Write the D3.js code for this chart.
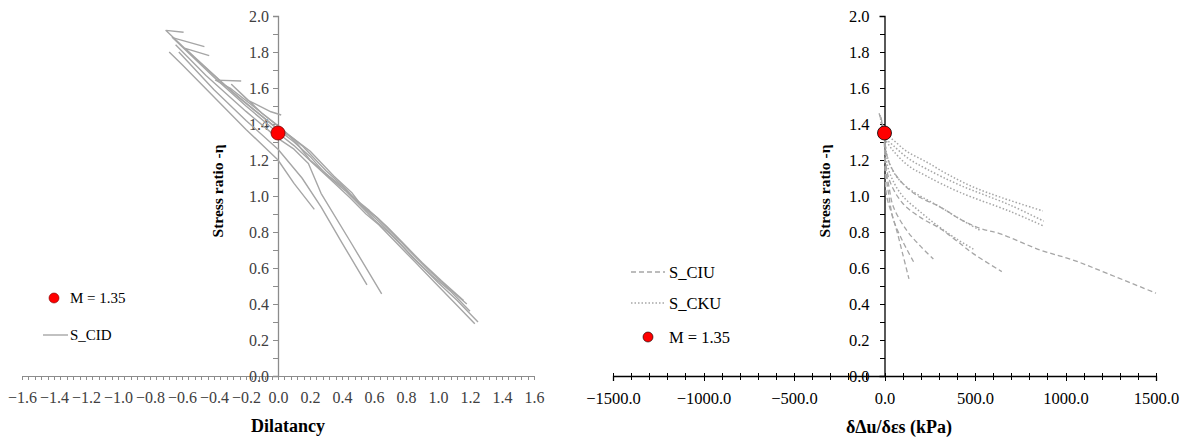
<!DOCTYPE html>
<html>
<head>
<meta charset="utf-8">
<script src="https://cdn.jsdelivr.net/npm/d3@7"></script>
<style>
    body { margin: 0; background: #fff; }
    .tick line { shape-rendering: crispEdges; }
</style>
</head>
<body>
<svg id="chart" width="1187" height="437" font-family="'Liberation Serif', 'Times New Roman', serif"></svg>
<script>

// Tick labels
const dilatancyTicks = [-1.6, -1.4, -1.2, -1.0, -0.8, -0.6, -0.4, -0.2, 0.0, 0.2, 0.4, 0.6, 0.8, 1.0, 1.2, 1.4, 1.6];
const etaTicks = [0.0, 0.2, 0.4, 0.6, 0.8, 1.0, 1.2, 1.4, 1.6, 1.8, 2.0];
const pressureTicks = [-1500, -1000, -500, 0, 500, 1000, 1500];

// Critical state stress ratio
const M = 1.35;

// S_CID drained tests: [dilatancy, eta]
const cid1 = [[1.25, 0.30], [1.12, 0.42], [1.0, 0.52], [0.9, 0.61], [0.8, 0.70], [0.7, 0.79], [0.6, 0.87], [0.5, 0.96], [0.42, 1.03], [0.3, 1.12], [0.2, 1.22], [0.1, 1.30], [0.0, 1.37], [-0.15, 1.48], [-0.3, 1.59], [-0.5, 1.75], [-0.7, 1.92], [-0.59, 1.91]];
const cid2 = [[1.23, 0.29], [1.1, 0.41], [0.98, 0.52], [0.86, 0.63], [0.75, 0.73], [0.63, 0.84], [0.55, 0.90], [0.45, 0.99], [0.33, 1.09], [0.22, 1.18], [0.1, 1.28], [0.0, 1.35], [-0.2, 1.50], [-0.4, 1.66], [-0.66, 1.88], [-0.46, 1.83]];
const cid3 = [[1.18, 0.40], [1.05, 0.50], [0.95, 0.58], [0.85, 0.67], [0.72, 0.79], [0.62, 0.88], [0.52, 0.95], [0.46, 1.02], [0.35, 1.11], [0.2, 1.25], [0.08, 1.33], [0.0, 1.37], [-0.25, 1.55], [-0.58, 1.82], [-0.43, 1.78]];
const cid4 = [[1.16, 0.42], [1.02, 0.53], [0.9, 0.63], [0.78, 0.74], [0.68, 0.83], [0.57, 0.92], [0.46, 1.00], [0.4, 1.06], [0.3, 1.14], [0.15, 1.28], [0.04, 1.36], [-0.1, 1.46], [-0.3, 1.60], [-0.39, 1.644], [-0.23, 1.639]];
const cid5 = [[1.2, 0.36], [1.08, 0.47], [0.96, 0.56], [0.84, 0.66], [0.74, 0.76], [0.64, 0.85], [0.53, 0.94], [0.42, 1.04], [0.32, 1.11], [0.2, 1.20], [0.12, 1.29], [0.03, 1.37], [-0.1, 1.46], [-0.29, 1.62], [-0.19, 1.533], [-0.044, 1.468], [0.02, 1.45]];
const cid6 = [[0.227, 0.926], [0.1, 1.07], [0.0, 1.20], [-0.2, 1.37], [-0.4, 1.55], [-0.6, 1.73], [-0.68, 1.80]];
const cid7 = [[0.556, 0.506], [0.4, 0.74], [0.269, 0.94], [0.15, 1.10], [0.0, 1.26], [-0.2, 1.42], [-0.4, 1.59], [-0.62, 1.80]];
const cid8 = [[0.648, 0.456], [0.45, 0.75], [0.269, 1.015], [0.19, 1.18], [0.1, 1.26], [0.0, 1.32], [-0.2, 1.47], [-0.45, 1.67], [-0.64, 1.84]];

// S_CIU undrained isotropic tests: [dDu/des (kPa), eta]
const ciu1 = [[-30, 1.46], [0, 1.35], [5, 1.28], [20, 1.20], [60, 1.12], [120, 1.05], [200, 0.99], [306, 0.94], [420, 0.87], [530, 0.82], [640, 0.79], [860, 0.70], [1040, 0.645], [1230, 0.57], [1500, 0.46]];
const ciu2 = [[-20, 1.44], [0, 1.33], [5, 1.20], [30, 1.08], [100, 0.96], [200, 0.88], [306, 0.82], [400, 0.75], [490, 0.68], [648, 0.58]];
const ciu3 = [[0, 1.30], [8, 1.15], [25, 1.05], [49, 0.94], [122, 0.81], [200, 0.72], [270, 0.65]];
const ciu4 = [[0, 1.30], [5, 1.15], [20, 1.03], [49, 0.87], [100, 0.75], [163, 0.63]];
const ciu5 = [[0, 1.30], [3, 1.15], [12, 1.00], [40, 0.90], [67, 0.81], [100, 0.68], [135, 0.54]];

// S_CKU undrained anisotropic tests
const cku1 = [[-25, 1.45], [0, 1.35], [50, 1.31], [120, 1.25], [230, 1.19], [350, 1.12], [490, 1.05], [650, 0.99], [875, 0.917]];
const cku2 = [[-20, 1.43], [0, 1.33], [49, 1.28], [130, 1.21], [233, 1.15], [417, 1.06], [693, 0.95], [880, 0.86]];
const cku3 = [[0, 1.32], [49, 1.25], [130, 1.17], [233, 1.11], [417, 1.02], [693, 0.915], [875, 0.835]];
const cku4 = [[0, 1.33], [10, 1.20], [40, 1.10], [100, 1.00], [200, 0.91], [300, 0.83], [400, 0.76], [500, 0.70]];
const cku5 = [[0, 1.35], [15, 1.22], [67, 1.107], [150, 1.03], [306, 0.94], [420, 0.87], [527, 0.81]];

const cidTests = [cid1, cid2, cid3, cid4, cid5, cid6, cid7, cid8];
const ciuTests = [ciu1, ciu2, ciu3, ciu4, ciu5];
const ckuTests = [cku1, cku2, cku3, cku4, cku5];

const lineGrey = "#a6a6a6";
const serif = "'Liberation Serif', 'Times New Roman', serif";

var svg = d3.select("#chart");

// ---------------- Left chart: stress ratio vs dilatancy ----------------
var xLeft = d3.scaleLinear().domain([-1.6, 1.6]).range([22, 534]);
var yLeft = d3.scaleLinear().domain([0, 2]).range([376, 16]);
var yRight = d3.scaleLinear().domain([0, 2]).range([376, 16]);
var xRight = d3.scaleLinear().domain([-1500, 1500]).range([613, 1156]);

var leftG = svg.append("g");

// Minor x ticks
leftG.append("g")
    .attr("transform", "translate(0," + yLeft(0) + ")")
    .call(d3.axisBottom(xLeft).tickValues(d3.range(-40, 41).map(d => d * 0.04)).tickSize(4).tickFormat(""))
    .call(g => g.select(".domain").remove())
    .selectAll("line").attr("stroke", "#8c8c8c");

// Add the X Axis
let xNodeL = leftG.append("g")
    .attr("transform", "translate(0," + yLeft(0) + ")")
    .call(d3.axisBottom(xLeft).tickValues(dilatancyTicks).tickSize(4).tickPadding(12).tickFormat(d3.format(".1f")));
xNodeL.select(".domain").attr("stroke", "#8c8c8c");
xNodeL.selectAll("line").attr("stroke", "#8c8c8c");
xNodeL.selectAll("text").style("font-family", serif).style("font-size", "16px").attr("fill", "#404040");

// Minor y ticks
leftG.append("g")
    .attr("transform", "translate(" + xLeft(0) + ",0)")
    .call(d3.axisLeft(yLeft).tickValues(d3.range(0, 21).map(d => d * 0.1)).tickSize(5).tickFormat(""))
    .call(g => g.select(".domain").remove())
    .selectAll("line").attr("stroke", "#8c8c8c");

// Add the Y Axis
let yNodeL = leftG.append("g")
    .attr("transform", "translate(" + xLeft(0) + ",0)")
    .call(d3.axisLeft(yLeft).tickValues(etaTicks).tickSize(5).tickPadding(4).tickFormat(d3.format(".1f")));
yNodeL.select(".domain").attr("stroke", "#8c8c8c").attr("stroke-width", 1.3);
yNodeL.selectAll("line").attr("stroke", "#8c8c8c");
yNodeL.selectAll("text").style("font-family", serif).style("font-size", "16px").attr("fill", "#404040");

// Curves
var lineLeft = d3.line()
    .x(d => xLeft(d[0]))
    .y(d => yLeft(d[1]));

leftG.selectAll(".cid")
    .data(cidTests)
    .enter().append("path")
    .attr("class", "cid")
    .attr("fill", "none")
    .attr("stroke", lineGrey)
    .attr("stroke-width", 1.4)
    .attr("stroke-linejoin", "round")
    .attr("d", lineLeft);

// M point
leftG.append("circle")
    .attr("cx", xLeft(0)).attr("cy", yLeft(M)).attr("r", 7)
    .attr("fill", "#ff0000").attr("stroke", "#7a0000").attr("stroke-width", 0.8);

// Axis titles
leftG.append("text")
    .attr("transform", "translate(223,191) rotate(-90)")
    .attr("text-anchor", "middle")
    .style("font-family", serif).style("font-size", "15.5px").style("font-weight", "bold")
    .text("Stress ratio -η");

leftG.append("text")
    .attr("x", 288).attr("y", 432)
    .attr("text-anchor", "middle")
    .style("font-family", serif).style("font-size", "18px").style("font-weight", "bold")
    .text("Dilatancy");

// Legend
leftG.append("circle").attr("cx", 54).attr("cy", 298).attr("r", 5)
    .attr("fill", "#ff0000").attr("stroke", "#7a0000").attr("stroke-width", 0.6);
leftG.append("text").attr("x", 70).attr("y", 303).style("font-family", serif).style("font-size", "15px").text("M = 1.35");
leftG.append("line").attr("x1", 43).attr("x2", 68).attr("y1", 335).attr("y2", 335)
    .attr("stroke", lineGrey).attr("stroke-width", 1.4);
leftG.append("text").attr("x", 70).attr("y", 340).style("font-family", serif).style("font-size", "15px").text("S_CID");

// ---------------- Right chart: stress ratio vs pore pressure rate ----------------
var rightG = svg.append("g");

// Minor x ticks
rightG.append("g")
    .attr("transform", "translate(0," + yRight(0) + ")")
    .call(d3.axisBottom(xRight).tickValues(d3.range(-15, 16).map(d => d * 100)).tickSizeInner(4).tickFormat(""))
    .call(g => g.select(".domain").remove())
    .selectAll("line").attr("y1", -3).attr("stroke", "#000");

// Add the X Axis
let xNodeR = rightG.append("g")
    .attr("transform", "translate(0," + yRight(0) + ")")
    .call(d3.axisBottom(xRight).tickValues(pressureTicks).tickSize(5).tickPadding(11).tickFormat(d3.format(".1f")));
xNodeR.select(".domain").attr("stroke", "#000").attr("stroke-width", 1.3);
xNodeR.selectAll("line").attr("y1", -3).attr("stroke", "#000");
xNodeR.selectAll("text").style("font-family", serif).style("font-size", "16.5px").attr("fill", "#000");

// Minor y ticks
rightG.append("g")
    .attr("transform", "translate(" + xRight(0) + ",0)")
    .call(d3.axisLeft(yRight).tickValues(d3.range(0, 21).map(d => d * 0.1)).tickSize(5).tickFormat(""))
    .call(g => g.select(".domain").remove())
    .selectAll("line").attr("stroke", "#000");

// Add the Y Axis
let yNodeR = rightG.append("g")
    .attr("transform", "translate(" + xRight(0) + ",0)")
    .call(d3.axisLeft(yRight).tickValues(etaTicks).tickSize(5).tickPadding(10).tickFormat(d3.format(".1f")));
yNodeR.select(".domain").attr("stroke", "#000").attr("stroke-width", 1.3);
yNodeR.selectAll("line").attr("stroke", "#000");
yNodeR.selectAll("text").style("font-family", serif).style("font-size", "16.5px").attr("fill", "#000");

var lineRight = d3.line()
    .curve(d3.curveCatmullRom.alpha(0.5))
    .x(d => xRight(d[0]))
    .y(d => yRight(d[1]));

rightG.selectAll(".ciu")
    .data(ciuTests)
    .enter().append("path")
    .attr("class", "ciu")
    .attr("fill", "none")
    .attr("stroke", lineGrey)
    .attr("stroke-width", 1.3)
    .attr("stroke-dasharray", "5,3")
    .attr("d", lineRight);

rightG.selectAll(".cku")
    .data(ckuTests)
    .enter().append("path")
    .attr("class", "cku")
    .attr("fill", "none")
    .attr("stroke", lineGrey)
    .attr("stroke-width", 1.5)
    .attr("stroke-dasharray", "1.5,2")
    .attr("d", lineRight);

rightG.append("circle")
    .attr("cx", xRight(0)).attr("cy", yRight(M)).attr("r", 7)
    .attr("fill", "#ff0000").attr("stroke", "#000").attr("stroke-width", 0.8);

// Axis titles
rightG.append("text")
    .attr("transform", "translate(830,191) rotate(-90)")
    .attr("text-anchor", "middle")
    .style("font-family", serif).style("font-size", "15.5px").style("font-weight", "bold")
    .text("Stress ratio -η");

rightG.append("text")
    .attr("x", 899).attr("y", 433)
    .attr("text-anchor", "middle")
    .style("font-family", serif).style("font-size", "18px").style("font-weight", "bold")
    .text("δΔu/δεs (kPa)");

// Legend
rightG.append("line").attr("x1", 631).attr("x2", 665).attr("y1", 272).attr("y2", 272)
    .attr("stroke", lineGrey).attr("stroke-width", 1.3).attr("stroke-dasharray", "5,3");
rightG.append("text").attr("x", 669).attr("y", 278).style("font-family", serif).style("font-size", "16.5px").text("S_CIU");
rightG.append("line").attr("x1", 631).attr("x2", 665).attr("y1", 303).attr("y2", 303)
    .attr("stroke", lineGrey).attr("stroke-width", 1.5).attr("stroke-dasharray", "1.5,2");
rightG.append("text").attr("x", 669).attr("y", 309).style("font-family", serif).style("font-size", "16.5px").text("S_CKU");
rightG.append("circle").attr("cx", 648).attr("cy", 337).attr("r", 5)
    .attr("fill", "#ff0000").attr("stroke", "#000").attr("stroke-width", 0.6);
rightG.append("text").attr("x", 669).attr("y", 343).style("font-family", serif).style("font-size", "16.5px").text("M = 1.35");

</script>
</body>
</html>
